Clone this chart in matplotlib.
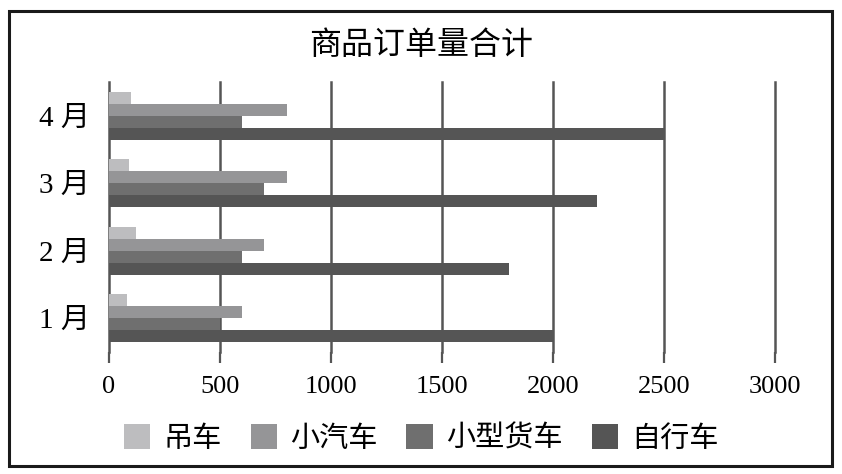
import matplotlib
matplotlib.use("Agg")
import matplotlib.pyplot as plt
from matplotlib.patches import Rectangle
import numpy as np

plt.rcParams['font.family'] = ['Liberation Serif', 'Noto Sans CJK SC']

months = ['1 月', '2 月', '3 月', '4 月']
series_names = ['吊车', '小汽车', '小型货车', '自行车']
crane = [80, 120, 90, 100]
car = [600, 700, 800, 800]
truck = [500, 600, 700, 600]
bike = [2000, 1800, 2200, 2500]
colors = ['#bdbdbf', '#959597', '#6f6f6f', '#555555']
xticks = [0, 500, 1000, 1500, 2000, 2500, 3000]

fig = plt.figure(figsize=(8.42, 4.74), dpi=100)
ax = fig.add_axes([109 / 842, 122 / 474, 666 / 842, 270 / 474])

y = np.arange(len(months))
h = 0.178
for j, (name, vals) in enumerate(zip(series_names, [crane, car, truck, bike])):
    ax.barh(y + (1.5 - j) * h, vals, height=h, color=colors[j], label=name,
            edgecolor='none', zorder=3)

ax.set_xlim(0, 3000)
ax.set_ylim(-0.5, 3.5)
ax.set_xticks(xticks)
ax.set_xticklabels([str(t) for t in xticks], fontsize=19)
ax.set_yticks(y)
ax.set_yticklabels(months, fontsize=21)
ax.tick_params(axis='x', length=8, width=1.6, color='#555555', pad=9)
ax.tick_params(axis='y', length=0, pad=14)
ax.grid(axis='x', color='#555555', lw=1.8, zorder=1)
for line in ax.get_xgridlines():
    line.set_clip_on(False)
for s in ax.spines.values():
    s.set_visible(False)

fig.text(0.5, 0.902, '商品订单量合计', ha='center', va='center', fontsize=23)

fig.legend(loc='center', bbox_to_anchor=(0.5, 0.075), ncol=4, frameon=False,
           fontsize=21, handlelength=0.9, handleheight=0.9, handletextpad=0.45,
           columnspacing=1.0)

fig.patches.append(Rectangle((9 / 842, 8 / 474), 823 / 842, 455 / 474,
                             transform=fig.transFigure, fill=False,
                             edgecolor='#1a1a1a', lw=2.2))

fig.savefig('out.png', dpi=100)
